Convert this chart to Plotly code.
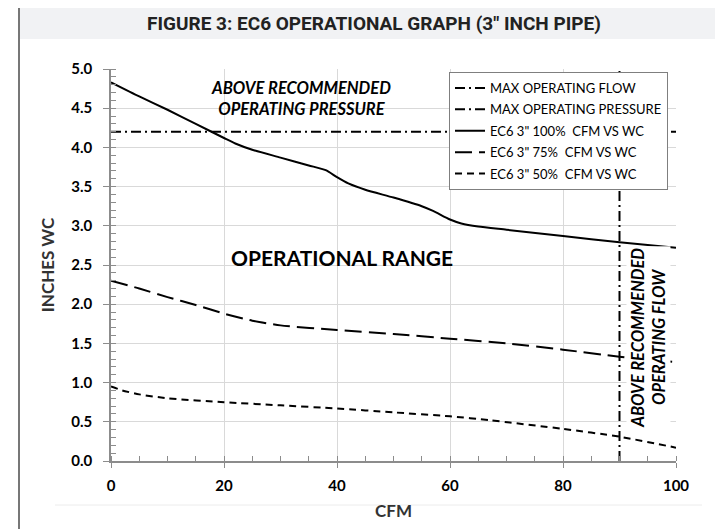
import plotly.graph_objects as go

# ---- data ----
cfm_100 = [0, 5, 10, 15, 20, 22, 25, 30, 35, 38, 40, 42, 45, 50, 55, 57, 60, 62, 65, 70, 80, 90, 100]
wc_100 = [4.83, 4.65, 4.48, 4.30, 4.12, 4.05, 3.97, 3.87, 3.77, 3.71, 3.62, 3.54, 3.46, 3.36, 3.25, 3.19, 3.08, 3.03, 2.99, 2.95, 2.87, 2.79, 2.72]

cfm_75 = [0, 5, 10, 15, 20, 25, 30, 40, 50, 60, 70, 80, 90, 100]
wc_75 = [2.30, 2.20, 2.09, 1.99, 1.88, 1.79, 1.73, 1.67, 1.62, 1.56, 1.50, 1.42, 1.33, 1.26]

cfm_50 = [0, 2, 5, 10, 20, 30, 40, 50, 60, 67, 80, 90, 100]
wc_50 = [0.95, 0.90, 0.85, 0.80, 0.75, 0.71, 0.67, 0.62, 0.57, 0.52, 0.41, 0.31, 0.17]

max_flow_x = [90, 90]
max_flow_y = [0, 5]
max_press_x = [0, 100]
max_press_y = [4.2, 4.2]

names = ["MAX OPERATING FLOW", "MAX OPERATING PRESSURE",
         'EC6 3" 100%  CFM VS WC', 'EC6 3" 75%  CFM VS WC', 'EC6 3" 50%  CFM VS WC']

title_text = 'FIGURE 3: EC6 OPERATIONAL GRAPH (3" INCH PIPE)'

FONT = "Lato, 'Open Sans', sans-serif"
dashdot = "10px,4px,2px,4px"

# page offset (body margin) and plot-area geometry in page pixels
OFF = 8
PX0, PX1, PY0, PY1 = 111, 676, 69, 461


def px(x):
    return (x - PX0) / (PX1 - PX0)


def py(y):
    return 1 - (y - PY0) / (PY1 - PY0)


fig = go.Figure()
fig.add_trace(go.Scatter(x=max_flow_x, y=max_flow_y, mode="lines", name=names[0], legendgroup="a",
                         line=dict(color="black", width=2, dash=dashdot)))
fig.add_trace(go.Scatter(x=max_press_x, y=max_press_y, mode="lines", name=names[1], legendgroup="b",
                         line=dict(color="black", width=2, dash=dashdot)))
fig.add_trace(go.Scatter(x=cfm_100, y=wc_100, mode="lines", name=names[2], legendgroup="c",
                         line=dict(color="black", width=2, shape="spline", smoothing=0.6)))
fig.add_trace(go.Scatter(x=cfm_75, y=wc_75, mode="lines", name=names[3], legendgroup="d",
                         line=dict(color="black", width=2, dash="17px,7px", shape="spline", smoothing=0.6)))
fig.add_trace(go.Scatter(x=cfm_50, y=wc_50, mode="lines", name=names[4], legendgroup="e",
                         line=dict(color="black", width=2, dash="7px,5px", shape="spline", smoothing=0.6)))

axis_common = dict(showline=True, linecolor="#8c8c8c", linewidth=1.5,
                   showgrid=True, gridcolor="#d9d9d9", gridwidth=1,
                   zeroline=False, ticks="outside", tickcolor="#8c8c8c",
                   tickfont=dict(family=FONT, size=15, color="black", weight="bold"))

fig.update_xaxes(range=[0, 100], dtick=20, tick0=0, ticklen=5, ticklabelstandoff=5,
                 minor=dict(ticks="inside", dtick=5, ticklen=5, tickcolor="#8c8c8c", showgrid=False),
                 title=dict(text="CFM", font=dict(family=FONT, size=17, color="#333", weight="bold"), standoff=12),
                 **axis_common)
fig.update_yaxes(range=[0, 5], dtick=0.5, tick0=0, ticklen=6, tickformat=".1f",
                 minor=dict(ticks="inside", dtick=0.1, ticklen=5, tickcolor="#8c8c8c", showgrid=False),
                 title=dict(text="INCHES WC", font=dict(family=FONT, size=17, color="#333", weight="bold"), standoff=12),
                 ticklabelstandoff=8,
                 **axis_common)

W, H = 723 - OFF, 529 - OFF
fig.update_layout(
    width=W, height=H,
    margin=dict(l=PX0 - OFF, r=723 - PX1, t=PY0 - OFF, b=529 - PY1, autoexpand=False),
    paper_bgcolor="white", plot_bgcolor="white",
    showlegend=True,
    legend=dict(x=px(449), y=py(72), xref="paper", yref="paper",
                xanchor="left", yanchor="top",
                bgcolor="white", bordercolor="#7f7f7f", borderwidth=1,
                font=dict(family=FONT, size=13, color="black"),
                tracegroupgap=1.5, itemwidth=30),
    shapes=[
        dict(type="rect", xref="paper", yref="paper", x0=px(19), x1=px(730), y0=py(39), y1=py(7),
             fillcolor="#f1f2f4", line=dict(width=0), layer="below"),
        dict(type="line", xref="paper", yref="paper", x0=px(19), x1=px(730), y0=py(7), y1=py(7),
             line=dict(color="#555", width=2)),
        dict(type="line", xref="paper", yref="paper", x0=px(19), x1=px(19), y0=py(540), y1=py(7),
             line=dict(color="#777", width=2)),
        dict(type="line", xref="paper", yref="paper", x0=px(55), x1=px(702), y0=py(505), y1=py(505),
             line=dict(color="#ececec", width=1)),
    ],
    annotations=[
        dict(text=title_text, xref="paper", yref="paper", x=px(374), y=py(23),
             showarrow=False, xanchor="center", yanchor="middle",
             font=dict(family="'Liberation Sans Narrow', 'Roboto', sans-serif", size=19, color="#222", weight="bold")),
        dict(text="<i>ABOVE RECOMMENDED<br>OPERATING PRESSURE</i>", x=33.6, y=4.63, xref="x", yref="y",
             showarrow=False, align="center",
             font=dict(family=FONT, size=16.5, color="black", weight="bold")),
        dict(text="OPERATIONAL RANGE", x=40.9, y=2.59, xref="x", yref="y", showarrow=False,
             font=dict(family=FONT, size=21, color="black", weight="bold")),
        dict(text="<i>ABOVE RECOMMENDED<br>OPERATING FLOW</i>", x=95.2, y=1.57, xref="x", yref="y",
             showarrow=False, textangle=-90, align="center", bgcolor="white",
             font=dict(family=FONT, size=16.5, color="black", weight="bold")),
    ],
)

fig.write_html("out.html")
